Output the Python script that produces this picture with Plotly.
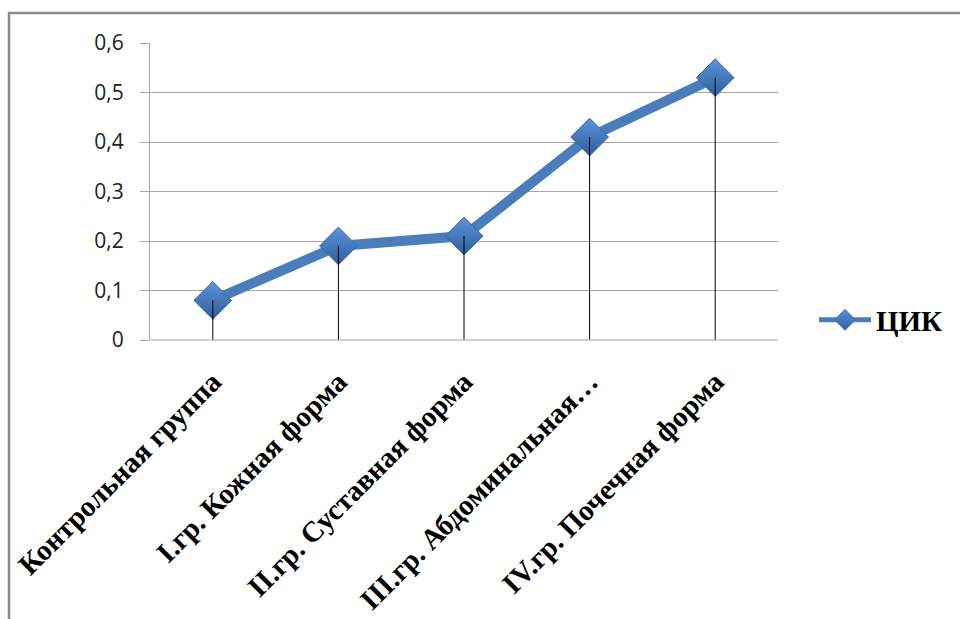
import plotly.graph_objects as go

categories = ["Контрольная группа", "I.гр. Кожная форма", "II.гр. Суставная форма",
              "III.гр. Абдоминальная…", "IV.гр. Почечная форма"]
values = [0.08, 0.19, 0.21, 0.41, 0.53]
series_name = "ЦИК"
y_tick_vals = [0, 0.1, 0.2, 0.3, 0.4, 0.5, 0.6]
y_tick_text = ["0", "0,1", "0,2", "0,3", "0,4", "0,5", "0,6"]

W, H = 960, 619
L, R, T, B = 150, 182, 43, 279
pw, ph = W - L - R, H - T - B

def px_x(x):
    return (x - L) / pw

def px_y(y):
    return 1 - (y - T) / ph

marker_style = dict(symbol="diamond", size=29, color="#5b93d8",
                    gradient=dict(type="vertical", color="#2e5f9e"),
                    line=dict(color="#3b6aa3", width=1))

fig = go.Figure()
fig.add_trace(go.Scatter(
    x=categories, y=values, name=series_name, mode="lines+markers",
    showlegend=False,
    line=dict(color="#4a7ebb", width=10),
    marker=marker_style,
))
# drop lines from each point to the axis
fig.add_trace(go.Scatter(
    x=categories, y=values, mode="markers", showlegend=False, hoverinfo="skip",
    marker=dict(size=1, color="rgba(0,0,0,0)"),
    error_y=dict(type="data", symmetric=False, array=[0] * len(values),
                 arrayminus=values, color="black", thickness=1, width=0),
))
# legend entry (thinner line as in the reference legend)
fig.add_trace(go.Scatter(
    x=[None], y=[None], name=series_name, mode="lines+markers",
    line=dict(color="#4a7ebb", width=5),
    marker=marker_style,
))

fig.update_layout(
    width=W, height=H,
    margin=dict(l=L, r=R, t=T, b=B, autoexpand=False),
    paper_bgcolor="white", plot_bgcolor="white",
    showlegend=True,
    legend=dict(x=px_x(814), y=px_y(320), xanchor="left", yanchor="middle",
                font=dict(family="Liberation Serif", size=29, color="black", weight="bold"),
                itemwidth=52,
                bgcolor="rgba(0,0,0,0)"),
    xaxis=dict(
        type="category", range=[-0.5, len(categories) - 0.5],
        showgrid=False, showline=False, zeroline=False, ticks="",
        tickangle=-45, ticklabelstandoff=18,
        tickfont=dict(family="Liberation Serif", size=29, color="black", weight="bold"),
    ),
    yaxis=dict(
        range=[0, 0.6], tickvals=y_tick_vals, ticktext=y_tick_text,
        showgrid=True, gridcolor="#a6a6a6", gridwidth=1,
        showline=True, linecolor="#a6a6a6", linewidth=1,
        zeroline=False,
        ticks="outside", ticklen=9, tickcolor="#a6a6a6", tickwidth=1,
        ticklabelstandoff=12,
        tickfont=dict(family="Open Sans", size=21, color="#222"),
    ),
    shapes=[
        dict(type="line", xref="paper", yref="paper", x0=0, x1=1, y0=0, y1=0,
             line=dict(color="#a6a6a6", width=1)),
        dict(type="rect", xref="paper", yref="paper",
             x0=px_x(9), x1=px_x(975), y0=px_y(13), y1=px_y(640),
             line=dict(color="#8a8a8a", width=2.5), layer="below"),
    ],
)

fig.write_html("out.html")
